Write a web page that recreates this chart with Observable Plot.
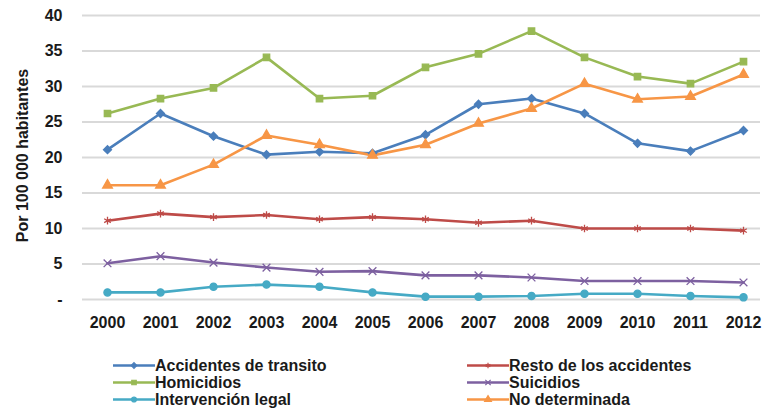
<!DOCTYPE html>
<html>
<head>
<meta charset="utf-8">
<script src="https://cdn.jsdelivr.net/npm/d3@7"></script>
<script src="https://cdn.jsdelivr.net/npm/@observablehq/plot@0.6"></script>
<style>
  body { margin: 0; background: #fff; }
  #wrap { position: relative; width: 766px; height: 410px; overflow: hidden; font-family: "Liberation Sans", Arial, sans-serif; font-weight: bold; color: #1a1a1a; }
  #chart { position: absolute; left: 0; top: 0; }
  .leg { position: absolute; font-size: 16px; line-height: 17px; }
  .row { display: flex; align-items: center; height: 17px; white-space: nowrap; }
</style>
</head>
<body>
<div id="wrap">
  <div id="chart"></div>
  <div class="leg" id="legL" style="left:113px; top:357px;"></div>
  <div class="leg" id="legR" style="left:467px; top:357px;"></div>
</div>
<script>
const years = [2000, 2001, 2002, 2003, 2004, 2005, 2006, 2007, 2008, 2009, 2010, 2011, 2012];
const yTicks = [0, 5, 10, 15, 20, 25, 30, 35, 40];

const seriesNames = ["Accidentes de transito", "Resto de los accidentes", "Homicidios", "Suicidios", "Intervención legal", "No determinada"];
const accidentesTransito = [21.1, 26.2, 23.0, 20.4, 20.8, 20.6, 23.2, 27.5, 28.3, 26.2, 22.0, 20.9, 23.8];
const restoAccidentes   = [11.1, 12.1, 11.6, 11.9, 11.3, 11.6, 11.3, 10.8, 11.1, 10.0, 10.0, 10.0, 9.7];
const homicidios        = [26.2, 28.3, 29.8, 34.1, 28.3, 28.7, 32.7, 34.6, 37.8, 34.1, 31.4, 30.4, 33.5];
const suicidios         = [5.1, 6.1, 5.2, 4.5, 3.9, 4.0, 3.4, 3.4, 3.1, 2.6, 2.6, 2.6, 2.4];
const intervencionLegal = [1.0, 1.0, 1.8, 2.1, 1.8, 1.0, 0.4, 0.4, 0.5, 0.8, 0.8, 0.5, 0.3];
const noDeterminada     = [16.1, 16.1, 19.0, 23.1, 21.8, 20.3, 21.8, 24.8, 26.9, 30.4, 28.2, 28.6, 31.7];
const seriesValues = [accidentesTransito, restoAccidentes, homicidios, suicidios, intervencionLegal, noDeterminada];

const colors = ["#4A7EBB", "#BE4B48", "#98B954", "#7D60A0", "#46AAC5", "#F79646"];
const symbols = ["diamond2", "asterisk", "square", "times", "circle", "triangle"];

const data = [];
seriesNames.forEach((name, i) => {
  seriesValues[i].forEach((v, j) => data.push({serie: name, year: years[j], value: v}));
});

const font = '"Liberation Sans", Arial, sans-serif';

const chart = Plot.plot({
  width: 766,
  height: 345,
  marginLeft: 82,
  marginRight: 6,
  marginTop: 15,
  marginBottom: 46,
  style: {fontFamily: font, fontWeight: "bold", color: "#1a1a1a", background: "#fff"},
  x: {type: "point", domain: years, range: [107, 743], padding: 0},
  y: {domain: [0, 40]},
  color: {domain: seriesNames, range: colors},
  symbol: {domain: seriesNames, range: symbols},
  marks: [
    Plot.ruleY(yTicks, {stroke: "#d9d9d9", strokeWidth: 1.8}),
    Plot.axisY(yTicks, {tickSize: 0, tickPadding: 20, fontSize: 16, fontWeight: "bold", label: null,
      tickFormat: d => d === 0 ? "-" : String(d)}),
    Plot.axisX({tickSize: 0, tickPadding: 17, fontSize: 16, fontWeight: "bold", label: null, tickFormat: d => String(d)}),
    Plot.text(["Por 100 000 habitantes"], {frameAnchor: "left", textAnchor: "middle", dx: -60, dy: -2, rotate: -90, fontSize: 16, fontWeight: "bold", fill: "#1a1a1a"}),
    Plot.line(data, {x: "year", y: "value", z: "serie", stroke: "serie", strokeWidth: 2.6}),
    Plot.dot(data, {x: "year", y: "value", symbol: "serie", fill: "serie", stroke: "serie", strokeWidth: 1.3, r: 3.6})
  ]
});
document.getElementById("chart").appendChild(chart);

// Legend
const symGen = {
  "diamond2": d3.symbolDiamond2, "asterisk": d3.symbolAsterisk, "square": d3.symbolSquare,
  "times": d3.symbolTimes, "circle": d3.symbolCircle, "triangle": d3.symbolTriangle
};
function swatch(color, sym) {
  const path = d3.symbol(symGen[sym], 20)();
  return `<svg width="42" height="17"><line x1="0" x2="42" y1="8.5" y2="8.5" stroke="${color}" stroke-width="2.6"/>` +
    `<path d="${path}" transform="translate(21,8.5)" fill="${color}" stroke="${color}" stroke-width="1.2"/></svg>`;
}
const leftIdx = [0, 2, 4], rightIdx = [1, 3, 5];
document.getElementById("legL").innerHTML = leftIdx.map(i => `<div class="row">${swatch(colors[i], symbols[i])}<span>${seriesNames[i]}</span></div>`).join("");
document.getElementById("legR").innerHTML = rightIdx.map(i => `<div class="row">${swatch(colors[i], symbols[i])}<span>${seriesNames[i]}</span></div>`).join("");
</script>
</body>
</html>
